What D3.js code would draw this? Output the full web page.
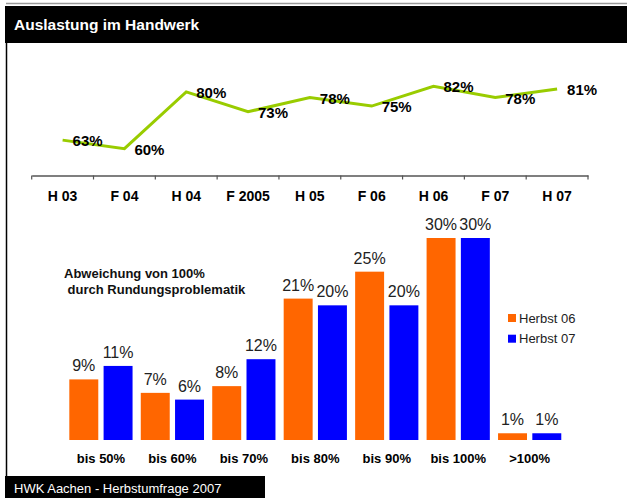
<!DOCTYPE html>
<html>
<head>
<meta charset="utf-8">
<script src="https://cdn.jsdelivr.net/npm/d3@7"></script>
<style>
  body { margin: 0; background: #fff; }
  svg { display: block; font-family: Arial, 'Liberation Sans', sans-serif; }
</style>
</head>
<body>
<script>
// data
const lineCats = ['H 03', 'F 04', 'H 04', 'F 2005', 'H 05', 'F 06', 'H 06', 'F 07', 'H 07']
const lineValues = [63, 60, 80, 73, 78, 75, 82, 78, 81]

const barCats = ['bis 50%', 'bis 60%', 'bis 70%', 'bis 80%', 'bis 90%', 'bis 100%', '>100%']
const seriesNames = ['Herbst 06', 'Herbst 07']
const herbst06 = [9, 7, 8, 21, 25, 30, 1]
const herbst07 = [11, 6, 12, 20, 20, 30, 1]

const title = 'Auslastung im Handwerk'
const note = ['Abweichung von 100%', ' durch Rundungsproblematik']
const footer = 'HWK Aachen - Herbstumfrage 2007'

// measurements
const m = {
    width: 627,
    height: 498,
    lineAxisY: 175.5,
    barBase: 440
}
const colors = { 'Herbst 06': '#ff6600', 'Herbst 07': '#0000ff' }

const svg = d3.select('body').append('svg')
    .attr('width', m.width)
    .attr('height', m.height)

// frame: grey top rule, black title bar, left rule, footer box
svg.append('line')
    .attr('x1', 6).attr('x2', m.width).attr('y1', 3.5).attr('y2', 3.5)
    .attr('stroke', '#999').attr('stroke-width', 1.5)
svg.append('rect')
    .attr('x', 5).attr('y', 6).attr('width', m.width - 5).attr('height', 37)
    .attr('fill', '#000')
svg.append('text')
    .attr('x', 14).attr('y', 29.5)
    .attr('fill', '#fff')
    .attr('font-size', 15.5).attr('font-weight', 'bold')
    .text(title)
svg.append('line')
    .attr('x1', 6.5).attr('x2', 6.5).attr('y1', 43).attr('y2', 476)
    .attr('stroke', '#000').attr('stroke-width', 1.5)
svg.append('rect')
    .attr('x', 5).attr('y', 476).attr('width', 260).attr('height', 22)
    .attr('fill', '#000')
svg.append('text')
    .attr('x', 14).attr('y', 492.5)
    .attr('fill', '#fff')
    .attr('font-size', 13)
    .text(footer)

// ---- line chart ----
const xLine = d3.scaleBand()
    .domain(lineCats)
    .range([31.7, 588])
const yLine = d3.scaleLinear()
    .domain([50, 90])
    .range([177, 63.5])

const lineAxis = svg.append('g')
    .attr('transform', `translate(0,${m.lineAxisY})`)
    .call(d3.axisBottom(xLine).tickSize(0).tickPadding(16))
lineAxis.select('.domain').attr('stroke', '#555').attr('stroke-width', 1.5)
lineAxis.selectAll('text')
    .attr('font-size', 14).attr('font-weight', 'bold')
    .attr('font-family', 'Arial, Liberation Sans, sans-serif')
    .attr('fill', '#000')

// tick marks sit on the band edges
const edges = lineCats.map(d => xLine(d)).concat([xLine.range()[1]])
svg.append('g').selectAll('line')
    .data(edges)
    .join('line')
    .attr('x1', d => d).attr('x2', d => d)
    .attr('y1', m.lineAxisY).attr('y2', m.lineAxisY + 4)
    .attr('stroke', '#555').attr('stroke-width', 1.2)

const lineData = lineCats.map((c, i) => ({ cat: c, value: lineValues[i] }))
const cx = d => xLine(d.cat) + xLine.bandwidth() / 2

svg.append('path')
    .datum(lineData)
    .attr('fill', 'none')
    .attr('stroke', '#99cc00')
    .attr('stroke-width', 3)
    .attr('d', d3.line().x(cx).y(d => yLine(d.value)))

svg.append('g').selectAll('text')
    .data(lineData)
    .join('text')
    .attr('x', d => cx(d) + 10)
    .attr('y', d => yLine(d.value) + 6)
    .attr('font-size', 15).attr('font-weight', 'bold')
    .attr('fill', '#000')
    .text(d => d.value + '%')

// ---- bar chart ----
const barData = barCats.map((c, i) => ({
    cat: c,
    values: [
        { name: seriesNames[0], value: herbst06[i] },
        { name: seriesNames[1], value: herbst07[i] }
    ]
}))

const xBar = d3.scaleBand()
    .domain(barCats)
    .range([61.1, 569.5])
    .paddingInner(0.115)
    .paddingOuter(0.115)
const xSub = d3.scaleBand()
    .domain(seriesNames)
    .range([0, xBar.bandwidth()])
    .paddingInner(0.155)
const yBar = d3.scaleLinear()
    .domain([0, 30])
    .range([m.barBase, 238])

const groups = svg.append('g').selectAll('g')
    .data(barData)
    .join('g')
    .attr('transform', d => `translate(${xBar(d.cat)},0)`)

groups.selectAll('rect')
    .data(d => d.values)
    .join('rect')
    .attr('x', d => xSub(d.name))
    .attr('y', d => yBar(d.value))
    .attr('width', xSub.bandwidth())
    .attr('height', d => m.barBase - yBar(d.value))
    .attr('fill', d => colors[d.name])

groups.selectAll('text')
    .data(d => d.values)
    .join('text')
    .attr('x', d => xSub(d.name) + xSub.bandwidth() / 2)
    .attr('y', d => yBar(d.value) - 8)
    .attr('text-anchor', 'middle')
    .attr('font-size', 16)
    .attr('fill', '#222')
    .text(d => d.value + '%')

const barAxis = svg.append('g')
    .attr('transform', `translate(0,${m.barBase})`)
    .call(d3.axisBottom(xBar).tickSize(0).tickPadding(14))
barAxis.select('.domain').remove()
barAxis.selectAll('text')
    .attr('font-size', 13).attr('font-weight', 'bold')
    .attr('font-family', 'Arial, Liberation Sans, sans-serif')
    .attr('fill', '#000')

// note text
svg.append('g').selectAll('text')
    .data(note)
    .join('text')
    .attr('x', 64)
    .attr('y', (d, i) => 278 + i * 16)
    .attr('font-size', 13).attr('font-weight', 'bold')
    .attr('fill', '#111')
    .attr('xml:space', 'preserve')
    .style('white-space', 'pre')
    .text(d => d)

// legend
const legend = svg.append('g').selectAll('g')
    .data(seriesNames)
    .join('g')
    .attr('transform', (d, i) => `translate(508,${314 + i * 20.7})`)
legend.append('rect')
    .attr('width', 8).attr('height', 8)
    .attr('fill', d => colors[d])
legend.append('text')
    .attr('x', 11).attr('y', 8.5)
    .attr('font-size', 13)
    .attr('fill', '#222')
    .text(d => d)
</script>
</body>
</html>
